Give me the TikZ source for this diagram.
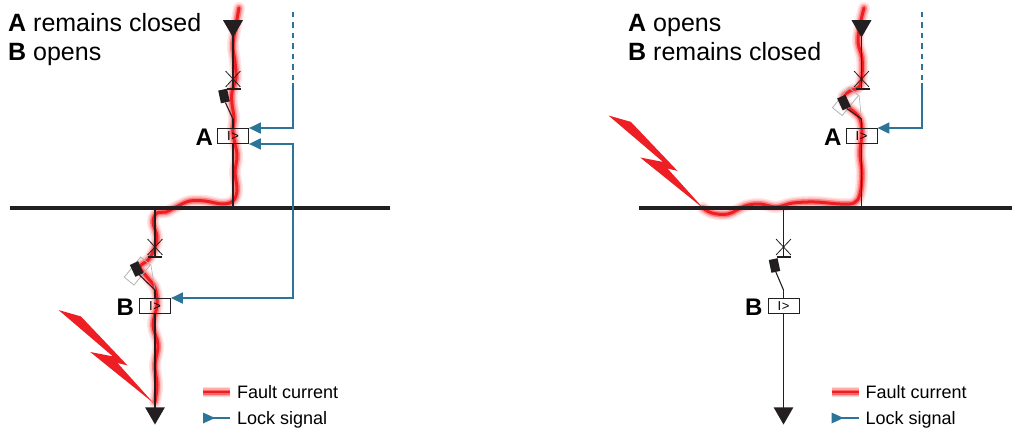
\documentclass[tikz,border=0pt]{standalone}
\usepackage{fontspec}
\setmainfont{Liberation Sans}
\usetikzlibrary{positioning,arrows.meta,shapes.geometric,shapes.misc}
\definecolor{ink}{RGB}{35,31,32}
\definecolor{lockblue}{RGB}{44,116,152}
\definecolor{faultred}{RGB}{237,30,36}

\begin{document}
\begin{tikzpicture}[x=1pt,y=-1pt,
	relay/.style={draw=ink,line width=0.9pt,minimum width=31pt,minimum height=15pt,inner sep=0pt,font=\fontsize{13}{13}\selectfont},
	lbl/.style={font=\fontsize{24}{24}\selectfont\bfseries,inner sep=0pt},
	feeder/.style={ink,line width=1.1pt},
	bus/.style={ink,line width=4.5pt},
	lock/.style={lockblue,line width=2pt},
	tip/.style={-{Triangle[length=12pt,width=11pt]}},
	endtri/.style={regular polygon,regular polygon sides=3,shape border rotate=180,fill=ink,minimum size=23pt,inner sep=0pt},
	xmark/.style={cross out,draw=ink,line width=0.8pt,minimum width=14pt,minimum height=15pt,inner sep=0pt},
	handle/.style={fill=ink,minimum width=9pt,minimum height=13pt,inner sep=0pt},
	ghost/.style={draw=black!30,line width=0.8pt,minimum width=26pt,minimum height=12.5pt,inner sep=0pt},
	legendtext/.style={font=\fontsize{18}{18}\selectfont,anchor=base west,inner sep=0pt},
	title/.style={font=\fontsize{25}{25}\selectfont,anchor=base west,inner sep=0pt}]
\useasboundingbox (0,0) rectangle (1012,428);

% legend swatch ends
\foreach \s/\dx in {L/0,R/628.5}{
	\coordinate (lfa\s) at (203+\dx,392);
	\coordinate (lfb\s) at (230+\dx,392);
}

% fault current
\foreach \w/\c in {12/red!10,9/red!24,6/red!50,3/faultred}{
	\draw[line width=\w pt,\c,line cap=round,line join=round] plot[smooth,tension=0.6] coordinates {(239,8) (236,25) (233,45) (235,62) (236,78) (232,92) (232,104) (234,118) (233,133) (237,155) (235,172) (237,190) (233,201) (222,204) (205,201) (190,201) (178,206) (166,212) (157,213) (153,222) (157,237) (154,250) (148,260) (140,267) (147,277) (155,288) (157,305) (153,325) (158,345) (155,365) (157,385) (155,402)};
	\draw[line width=\w pt,\c,line cap=round,line join=round] plot[smooth,tension=0.6] coordinates {(864,8) (860,25) (858,42) (862,58) (862,75) (859,87) (850,91) (843,97) (846,105) (853,111) (860,119) (862,133) (860,153) (862,173) (860,194) (854,203) (840,204) (815,202) (793,203) (776,207) (760,204) (745,206) (728,214) (712,213) (703,208)};
}
\foreach \w/\c in {10/red!14,7.5/red!32,5/red!60,2.5/faultred}{
	\draw[line width=\w pt,\c] (lfaL) -- (lfbL);
	\draw[line width=\w pt,\c] (lfaR) -- (lfbR);
}

% lightning
\foreach \bx/\by in {153.5/403,703.5/208.5}
	\fill[faultred,shift={(\bx,\by)}] (-95,-93) -- (-72.6,-86.6) -- (-26,-37.6) -- (-36,-40) -- (0,0) -- (-63.3,-51) -- (-40.6,-46.6) -- cycle;

\foreach \s/\dx in {L/0,R/628.5}{
	\draw[bus] (10+\dx,208) coordinate (busW\s) -- (390+\dx,208) coordinate (busE\s);
	\coordinate (jA\s) at (233+\dx,208);
	\coordinate (jB\s) at (155+\dx,208);
	% feeder A
	\node[endtri] (inA\s) at (233+\dx,26) {};
	\node[xmark] (xA\s) at (233+\dx,79) {};
	\coordinate (fA\s) at (233+\dx,89);
	\coordinate (pvA\s) at (233+\dx,119);
	\node[relay] (boxA\s) at (233+\dx,136) {I\kern.5pt>};
	\node[lbl,left=4pt of boxA\s,yshift=-1.5pt] (labA\s) {A};
	\draw[feeder] (inA\s.center) -- (fA\s);
	\draw[feeder] ([xshift=-6pt]fA\s) -- ([xshift=8pt]fA\s);
	\draw[feeder] (pvA\s) -- (boxA\s.north);
	\draw[feeder] (boxA\s.south) -- (jA\s);
	% feeder B
	\node[xmark] (xB\s) at (155+\dx,247) {};
	\coordinate (fB\s) at (155+\dx,257);
	\coordinate (pvB\s) at (155+\dx,290);
	\node[relay] (boxB\s) at (155+\dx,306) {I\kern.5pt>};
	\node[lbl,left=5pt of boxB\s,yshift=-1.5pt] (labB\s) {B};
	\node[endtri] (outB\s) at (155+\dx,413) {};
	\draw[feeder] (jB\s) -- (fB\s);
	\draw[feeder] ([xshift=-7pt]fB\s) -- ([xshift=7pt]fB\s);
	\draw[feeder] (pvB\s) -- (boxB\s.north);
	\draw[feeder] (boxB\s.south) -- (outB\s.center);
	% legend
	\node[legendtext] (tF\s) at (237+\dx,398) {Fault current};
	\coordinate (lla\s) at (203+\dx,418);
	\coordinate (llb\s) at (230+\dx,418);
	\draw[lock] (lla\s) -- (llb\s);
	\fill[lockblue] (lla\s) ++(0,-5.5) -- ++(12,5.5) -- ++(-12,5.5) -- cycle;
	\node[legendtext] (tL\s) at (237+\dx,424.5) {Lock signal};
}

% switch handles, left: A closed, B opens
\node[handle,rotate=12] (hAL) at (224,96) {};
\draw[feeder] (pvAL) -- (hAL.south);
\node[ghost,rotate=51] (gBL) at (137.3,271) {};
\draw[black!30,line width=0.6pt] (pvBL) -- (gBL.south east);
\node[handle,rotate=25] (hBL) at (136.7,269) {};
\draw[feeder] (pvBL) -- (hBL.south);
% right: A opens, B closed
\node[ghost,rotate=51] (gAR) at (845.5,101.5) {};
\draw[black!30,line width=0.6pt] (pvAR) -- (gAR.south east);
\node[handle,rotate=25] (hAR) at (844,102.5) {};
\draw[feeder] (pvAR) -- (hAR.south);
\node[handle,rotate=12] (hBR) at (774.5,265.5) {};
\draw[feeder] (pvBR) -- (hBR.south);

% lock signals
\coordinate (dsL) at (293,12); \coordinate (deL) at (293,80); \coordinate (slL) at (293,83);
\draw[lock,dash pattern=on 5.5pt off 5pt] (dsL) -- (deL);
\draw[lock,tip] (slL) |- (boxAL.north east);
\draw[lock,{Triangle[length=12pt,width=11pt]}-{Triangle[length=12pt,width=11pt]}] (boxAL.south east) -| (slL |- boxBL.north east) -- (boxBL.north east);
\coordinate (dsR) at (922,12); \coordinate (deR) at (922,80); \coordinate (slR) at (922,83);
\draw[lock,dash pattern=on 5.5pt off 5pt] (dsR) -- (deR);
\draw[lock,tip] (slR) |- (boxAR.north east);

% titles
\node[title] (tAL) at (8,31.5) {\textbf{A} remains closed};
\node[title] (tBL) at (8,60) {\textbf{B} opens};
\node[title] (tAR) at (628,31.5) {\textbf{A} opens};
\node[title] (tBR) at (628,60) {\textbf{B} remains closed};
\end{tikzpicture}
\end{document}
